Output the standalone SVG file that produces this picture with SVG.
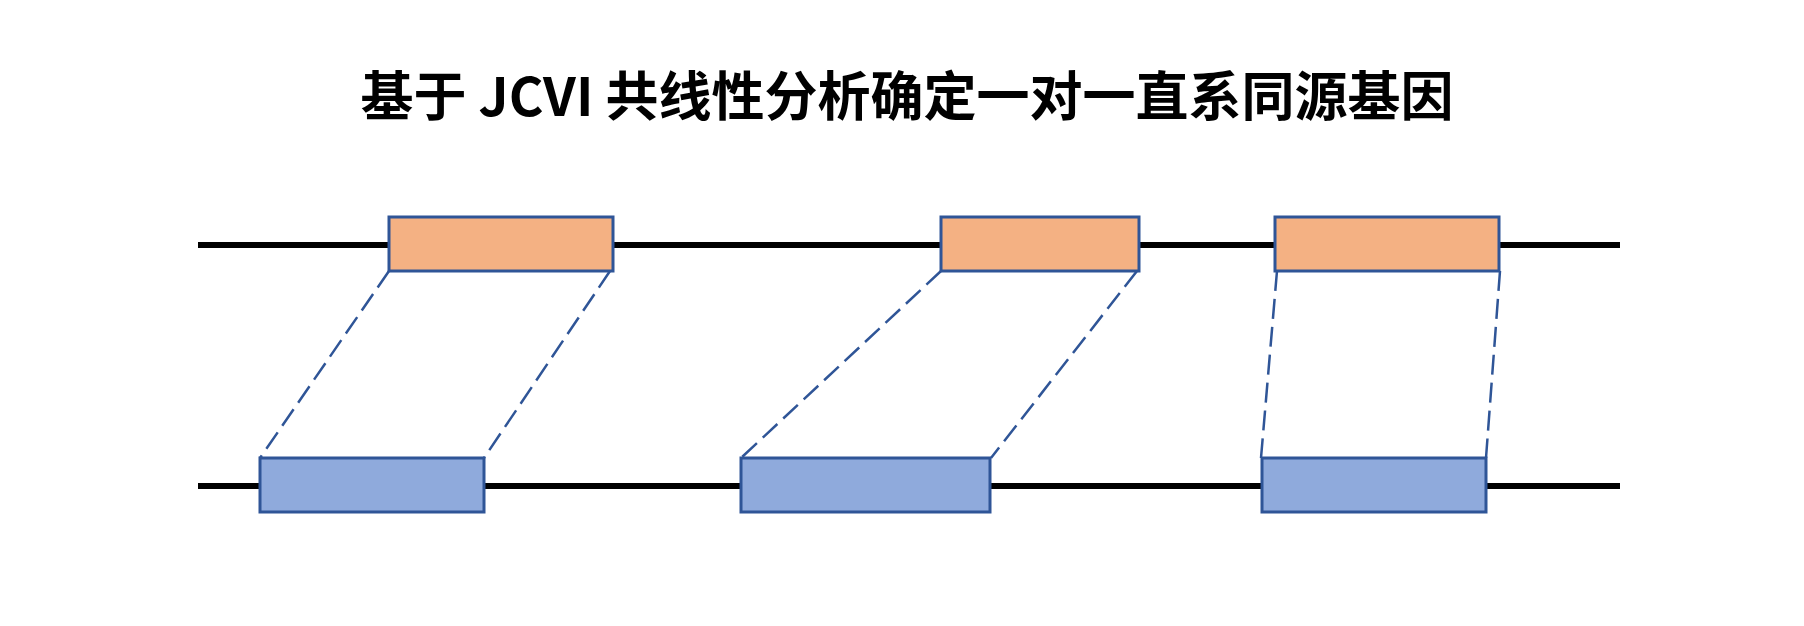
<svg xmlns="http://www.w3.org/2000/svg" width="1804" height="626" viewBox="0 0 1804 626">
  <style>
    .title { font-family: "Noto Sans CJK SC", "Noto Sans", sans-serif; font-size: 53px; font-weight: bold; fill: #000; }
    .chrom { stroke: #000; stroke-width: 6; fill: none; }
    .link { stroke: #2F5597; stroke-width: 2.5; stroke-dasharray: 20 8; fill: none; }
    .geneA { fill: #F4B183; stroke: #2F5597; stroke-width: 3; }
    .geneB { fill: #8FAADC; stroke: #2F5597; stroke-width: 3; }
  </style>
  <rect width="1804" height="626" fill="#fff"/>

  <text class="title" x="907" y="116" text-anchor="middle">基于 JCVI 共线性分析确定一对一直系同源基因</text>

  <!-- chromosome backbones -->
  <g id="chromosomes">
    <line class="chrom" x1="198" y1="245" x2="1620" y2="245"/>
    <line class="chrom" x1="198" y1="486" x2="1620" y2="486"/>
  </g>

  <!-- collinear links between gene pairs -->
  <g id="connectors">
    <line class="link" x1="389" y1="271" x2="260" y2="458"/>
    <line class="link" x1="610" y1="271" x2="484" y2="458"/>
    <line class="link" x1="941" y1="271" x2="741" y2="458"/>
    <line class="link" x1="1137" y1="271" x2="991" y2="458"/>
    <line class="link" x1="1277" y1="271" x2="1261" y2="458"/>
    <line class="link" x1="1500" y1="271" x2="1486" y2="458"/>
  </g>

  <!-- genes on the upper chromosome -->
  <g id="geneA1"><rect class="geneA" x="389" y="217" width="224" height="54"/></g>
  <g id="geneA2"><rect class="geneA" x="941" y="217" width="198" height="54"/></g>
  <g id="geneA3"><rect class="geneA" x="1275" y="217" width="224" height="54"/></g>

  <!-- genes on the lower chromosome -->
  <g id="geneB1"><rect class="geneB" x="260" y="458" width="224" height="54"/></g>
  <g id="geneB2"><rect class="geneB" x="741" y="458" width="249" height="54"/></g>
  <g id="geneB3"><rect class="geneB" x="1262" y="458" width="224" height="54"/></g>
</svg>
